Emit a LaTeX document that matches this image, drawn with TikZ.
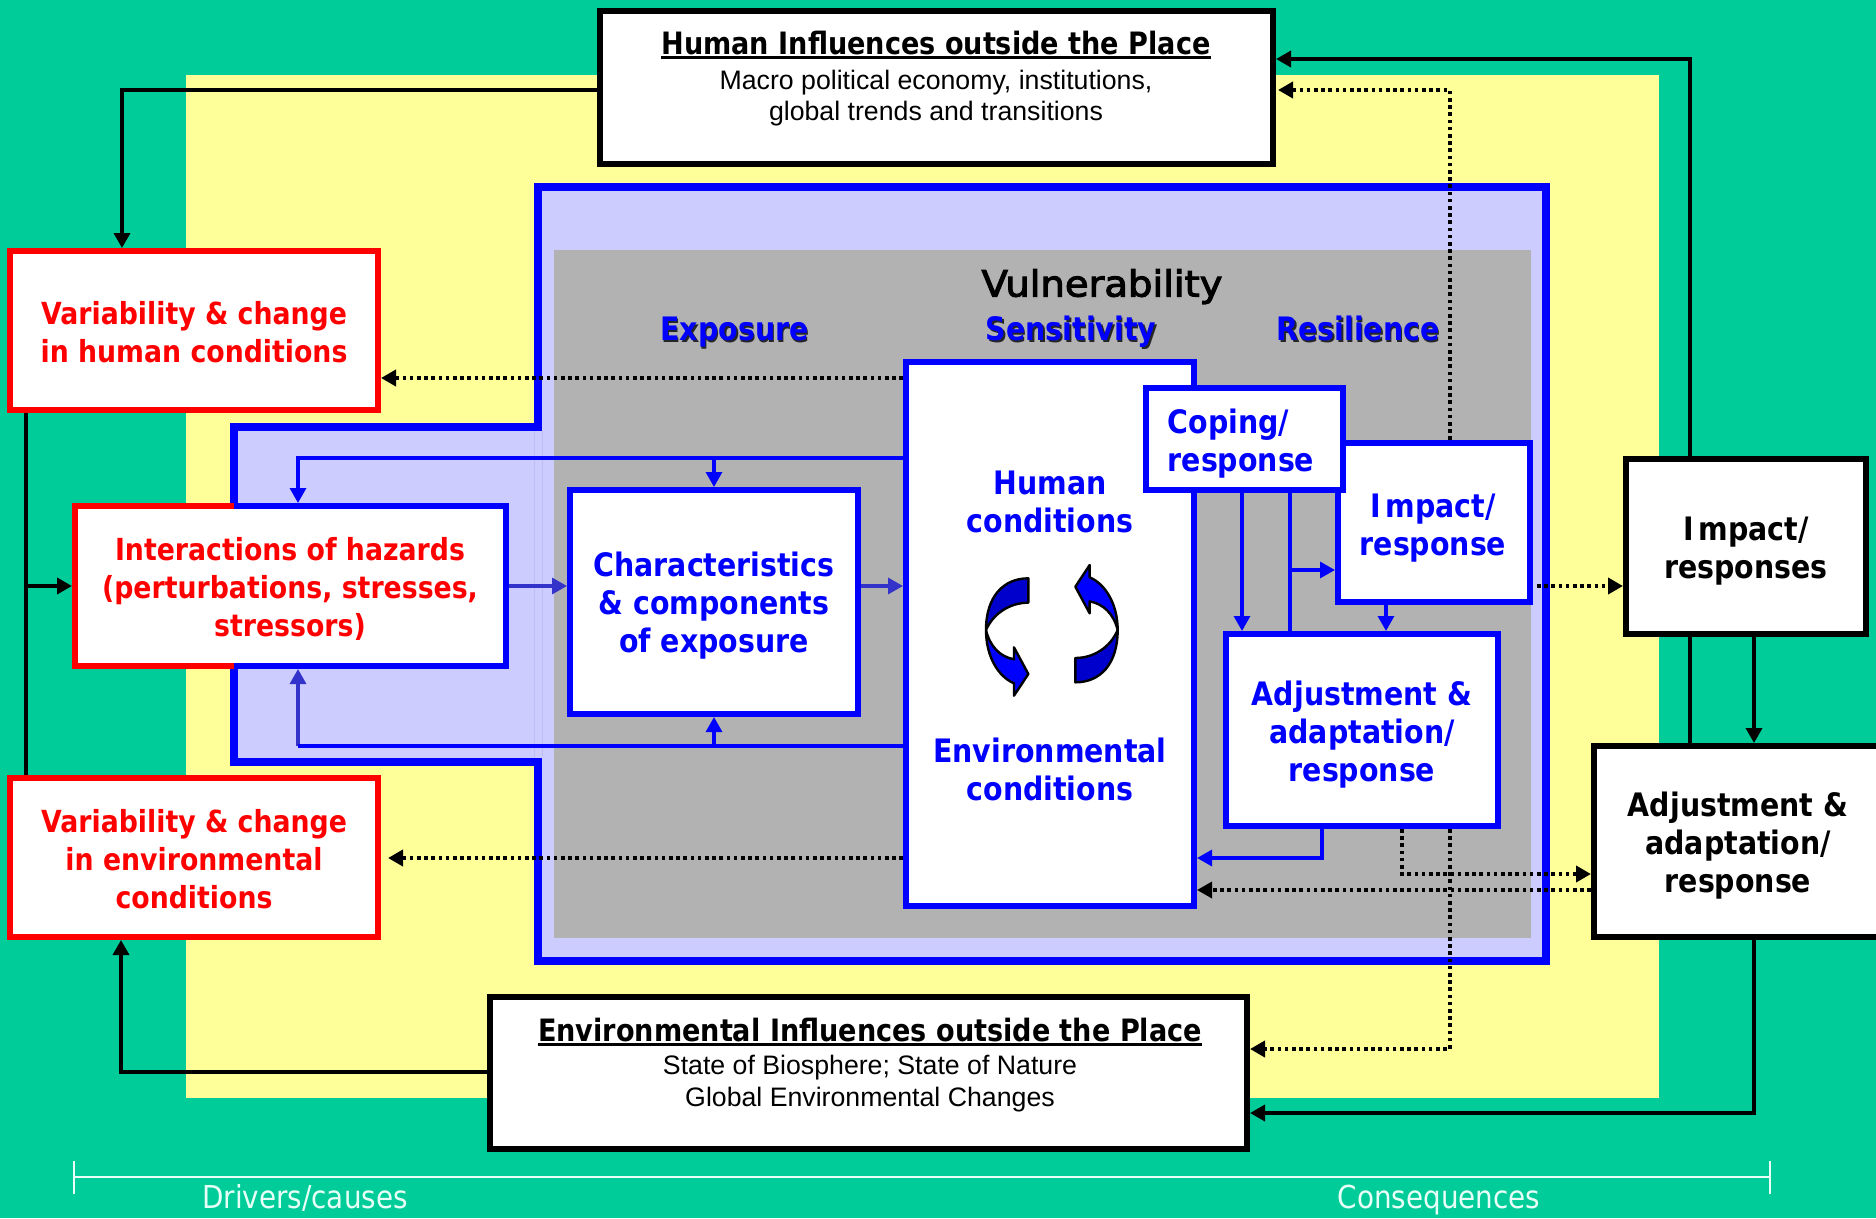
\documentclass[tikz,border=0pt]{standalone}
\usepackage{fontspec}
\usetikzlibrary{arrows.meta}
\setmainfont{Liberation Sans}
\newfontfamily\tah[FakeStretch=.88]{DejaVu Sans}
\newfontfamily\tahmid[FakeBold=3,FakeStretch=1.07]{DejaVu Sans}
\newcommand{\heavyul}[1]{\setbox0\hbox{#1}\rlap{\rule[-5pt]{\wd0}{3pt}}\box0}
\definecolor{bggreen}{HTML}{00CC99}
\definecolor{bgyellow}{HTML}{FFFF99}
\definecolor{lav}{HTML}{CCCCFF}
\definecolor{seam}{HTML}{BDBDF5}
\definecolor{midgray}{HTML}{B2B2B2}
\definecolor{softblue}{HTML}{3333CC}
\definecolor{darkblue}{HTML}{0000CC}
\definecolor{pure}{HTML}{0000FF}
\definecolor{scalewhite}{HTML}{E6FFF7}
\tikzset{
  x=1pt,y=-1pt,
  frame/.style={draw,line width=6pt,fill=white,rectangle,inner sep=0pt,miter limit=10},
  blackbox/.style={frame,draw=black},
  redbox/.style={frame,draw=red},
  bluebox/.style={frame,draw=pure},
  lab/.style={inner sep=0pt,align=center,font=\tah\bfseries\fontsize{32.3}{38}\selectfont},
  redlab/.style={lab,text=red,font=\tah\bfseries\fontsize{30.4}{38}\selectfont},
  bluelab/.style={lab,text=pure},
  blacklab/.style={lab,text=black},
  sub/.style={inner sep=0pt,align=center,font=\fontsize{26.7}{31.5}\selectfont},
  head/.style={lab,font=\tah\bfseries\fontsize{30.8}{38}\selectfont,text height=24pt,text depth=8pt},
  oneline/.style={text height=24pt,text depth=8pt},
  tip/.style={-{Triangle[length=15pt,width=16pt]}},
  solidk/.style={line width=3.5pt,black,tip,miter limit=10},
  plaink/.style={line width=3.5pt,black},
  dotk/.style={line width=4pt,black,dash pattern=on 3.6pt off 3.6pt,tip},
  blu/.style={line width=3.2pt,pure,tip},
  bluplain/.style={line width=3.2pt,pure},
  sof/.style={line width=3.2pt,softblue,tip},
  swirl/.style={draw=black,line width=2.4pt,line join=round},
  scaleline/.style={line width=1.6pt,scalewhite},
  scalelab/.style={inner sep=0pt,text=scalewhite,font=\tah\fontsize{31.6}{36}\selectfont,text height=24pt,text depth=8pt},
}
\begin{document}
\begin{tikzpicture}
\clip (0,0) rectangle (1876,1218);
\fill[bggreen] (0,0) rectangle (1876,1218);
\fill[bgyellow] (186,75) rectangle (1659,1098);
% vulnerability frame
\draw[pure,fill=lav,line width=8pt,miter limit=10] (538,187) -- (1546,187) -- (1546,961) -- (538,961) -- (538,762) -- (234,762) -- (234,426.5) -- (538,426.5) -- cycle;
\fill[midgray] (554,250) rectangle (1531,938);
\draw[seam,line width=.8pt] (534,431) -- (534,757) (542,431) -- (542,757);

% boxes
\node[blackbox,minimum width=673pt,minimum height=153pt] (human) at (936.5,87.5) {};
\node[blackbox,minimum width=757pt,minimum height=152pt] (env) at (868.5,1073) {};
\node[redbox,minimum width=368pt,minimum height=159pt] (varhuman) at (194,330.5) {};
\node[redbox,minimum width=368pt,minimum height=159pt] (varenv) at (194,857.5) {};
\node[redbox,minimum width=431pt,minimum height=160pt] (inter) at (290.5,586) {};
\draw[pure,line width=6pt,miter limit=10] (234,506) -- (506,506) -- (506,666) -- (234,666);
\node[bluebox,minimum width=288pt,minimum height=224pt] (chars) at (714,602) {};
\node[bluebox,minimum width=288pt,minimum height=544pt] (cond) at (1050,634) {};
\node[bluebox,minimum width=192pt,minimum height=159pt] (impb) at (1434,522.5) {};
\node[bluebox,minimum width=197pt,minimum height=102pt] (coping) at (1244.5,439) {};
\node[bluebox,minimum width=272pt,minimum height=192pt] (adjb) at (1362,730) {};
\node[blackbox,minimum width=240pt,minimum height=175pt] (impk) at (1746,546.5) {};
\node[blackbox,minimum width=286pt,minimum height=191pt] (adjk) at (1737,841.5) {};

% texts
\node[head] (humanT) at (936,46.4) {\heavyul{Human Influences outside the Place}};
\node[sub] (humanS) at (936,98) {Macro political economy, institutions,\\global trends and transitions};
\node[head] (envT) at (870,1033.4) {\heavyul{Environmental Influences outside the Place}};
\node[sub] (envS) at (870,1083.5) {State of Biosphere; State of Nature\\Global Environmental Changes};
\node[redlab] (varhumanT) at (194,332) {Variability \& change\\in human conditions};
\node[redlab] (varenvT) at (194,859) {Variability \& change\\in environmental\\conditions};
\node[redlab] (interT) at (290,589) {Interactions of hazards\\(perturbations, stresses,\\stressors)};
\node[bluelab] (charsT) at (714,606) {Characteristics\\\& components\\of exposure};
\node[bluelab] (humcT) at (1050,502) {Human\\conditions};
\node[bluelab] (envcT) at (1050,769) {Environmental\\conditions};
\node[bluelab,align=left] (copingT) at (1241,443.6) {Coping/\\response};
\node[bluelab] (impbT) at (1433,527.6) {I\kern5pt mpact/\\response};
\node[bluelab] (adjbT) at (1362,734.5) {Adjustment \&\\adaptation/\\response};
\node[blacklab] (impkT) at (1746,551) {I\kern5pt mpact/\\responses};
\node[blacklab] (adjkT) at (1738,846) {Adjustment \&\\adaptation/\\response};
\node[blacklab,oneline,font=\tahmid\fontsize{36}{40}\selectfont] (vulnT) at (1102,288.5) {Vulnerability};
\node[lab,oneline,text=black!85] (expoS) at (736,334) {Exposure};
\node[bluelab,oneline] (expoT) at (734.5,332.5) {Exposure};
\node[lab,oneline,text=black!85] (sensS) at (1072.5,334) {Sensitivity};
\node[bluelab,oneline] (sensT) at (1071,332.5) {Sensitivity};
\node[lab,oneline,text=black!85] (resiS) at (1359.5,334) {Resilience};
\node[bluelab,oneline] (resiT) at (1358,332.5) {Resilience};

% black solid connectors
\draw[solidk] (human.west |- 0,90) -- (122,90) -- (varhuman.north -| 122,0);
\draw[solidk] (env.west |- 0,1072) -- (121,1072) -- (varenv.south -| 121,0);
\coordinate (busL) at (26,586);
\draw[plaink] (varhuman.south -| busL) -- (varenv.north -| busL);
\draw[solidk,line width=4.5pt] (busL) -- (inter.west);
\coordinate (busR) at (1690,59);
\draw[solidk] (impk.north -| busR) -- (busR) -- (human.east |- busR);
\draw[plaink] (impk.south -| busR) -- (adjk.north -| busR);
\draw[solidk] (impk.south -| 1754,0) -- (adjk.north -| 1754,0);
\draw[solidk] (adjk.south -| 1754,0) -- (1754,1113) -- (env.east |- 0,1113);

% blue connectors
\coordinate (topL) at (298,458);
\coordinate (botL) at (298,746);
\draw[blu] (cond.west |- topL) -- (topL) -- (inter.north -| topL);
\draw[blu] (chars.north |- topL) -- (chars.north);
\draw[sof,line width=3.2pt] (botL) -- (inter.south -| botL);
\draw[bluplain] (cond.west |- botL) -- (botL);
\draw[blu] (chars.south |- botL) -- (chars.south);
\draw[sof] (inter.east |- 0,586) -- (chars.west |- 0,586);
\draw[sof] (chars.east |- 0,586) -- (cond.west |- 0,586);
\draw[blu] (coping.south -| 1242,0) -- (adjb.north -| 1242,0);
\coordinate (jn) at (1290,570);
\draw[bluplain] (adjb.north -| jn) -- (coping.south -| jn);
\draw[blu] (jn) -- (impb.west |- jn);
\draw[blu] (impb.south -| 1386,0) -- (adjb.north -| 1386,0);
\draw[blu] (adjb.south -| 1322,0) -- (1322,858) -- (cond.east |- 0,858);

% dotted connectors
\draw[dotk] (cond.west |- 0,378) -- (varhuman.east |- 0,378);
\coordinate (envTip) at (388,858);
\draw[dotk] (cond.west |- envTip) -- (envTip);
\coordinate (humTip) at (1278,90);
\draw[dotk] (impb.north -| 1450,0) -- (1450,90) -- (humTip);
\draw[dotk] (adjb.south -| 1450,0) -- (1450,1049) -- (env.east |- 0,1049);
\draw[dotk] (1537,586) -- (impk.west |- 0,586);
\draw[dotk] (adjb.south -| 1402,0) -- (1402,874) -- (adjk.west |- 0,874);
\draw[dotk,line width=3.4pt] (adjk.west |- 0,890) -- (cond.east |- 0,890);

% cycle arrows
\begin{scope}[shift={(900,520)},x=.33333pt,y=-.33333pt]
\draw[swirl,fill=darkblue] (385,175) .. controls (310,175) and (258,230) .. (258,330) .. controls (280,280) and (330,248) .. (385,248) -- cycle;
\draw[swirl,fill=pure] (258,330) .. controls (258,410) and (295,470) .. (342,490) -- (342,527) -- (385,462) -- (342,382) -- (342,418) .. controls (300,410) and (270,380) .. (258,330) -- cycle;
\draw[swirl,fill=darkblue] (526,487) .. controls (601,487) and (653,432) .. (653,330) .. controls (631,382) and (581,414) .. (526,414) -- cycle;
\draw[swirl,fill=pure] (653,330) .. controls (653,252) and (616,192) .. (569,172) -- (569,135) -- (526,200) -- (569,280) -- (569,244) .. controls (611,252) and (641,282) .. (653,330) -- cycle;
\end{scope}

% bottom scale
\coordinate (scaleA) at (74,1177);
\coordinate (scaleB) at (1770,1177);
\draw[scaleline] (scaleA) -- (scaleB);
\draw[scaleline] (74,1161) -- (74,1194) (1770,1161) -- (1770,1194);
\node[scalelab] (driversT) at (305,1200) {Drivers/causes};
\node[scalelab] (consT) at (1439,1200) {Consequences};
\end{tikzpicture}
\end{document}
